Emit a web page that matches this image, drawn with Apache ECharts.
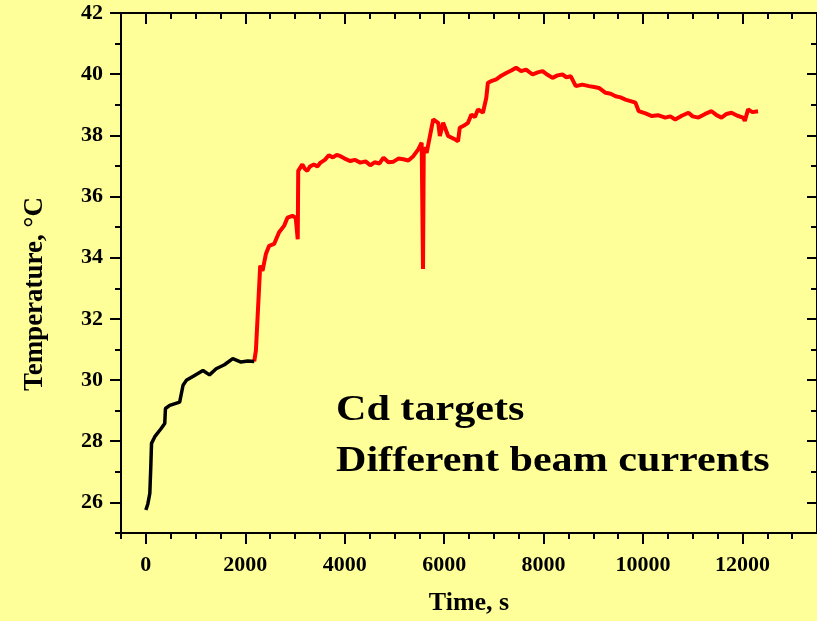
<!DOCTYPE html>
<html>
<head>
<meta charset="utf-8">
<script src="https://cdn.jsdelivr.net/npm/echarts@6/dist/echarts.min.js"></script>
<style>
html,body{margin:0;padding:0;background:#FFFF99;}
#c{width:817px;height:621px;}
</style>
</head>
<body>
<div id="c"></div>
<script>
// Tick labels / tick values
var xMajorTicks = [0, 2000, 4000, 6000, 8000, 10000, 12000];
var xMinorTicks = [-500, 500, 1000, 1500, 2500, 3000, 3500, 4500, 5000, 5500, 6500, 7000, 7500, 8500, 9000, 9500, 10500, 11000, 11500, 12500, 13000];
var yMajorTicks = [26, 28, 30, 32, 34, 36, 38, 40, 42];
var yMinorTicks = [25, 27, 29, 31, 33, 35, 37, 39, 41];

// Black segment (time s, temperature C)
var blackTime = [0, 40, 80, 100, 114, 180, 300, 380, 394, 480, 680, 748, 814, 980, 1148, 1280, 1414, 1580, 1748, 1914, 2050, 2180];
var blackTemp = [25.75, 25.95, 26.3, 27.2, 27.93, 28.15, 28.4, 28.58, 29.07, 29.17, 29.28, 29.83, 29.99, 30.15, 30.31, 30.17, 30.37, 30.5, 30.70, 30.59, 30.62, 30.61];

// Red segment
var redTime = [2180, 2214, 2300, 2347, 2414, 2480, 2580, 2680, 2780, 2848, 2948, 3014, 3040, 3055, 3065, 3080, 3148, 3200, 3248, 3300, 3380, 3450, 3514, 3600, 3680, 3760, 3840, 3914, 4000, 4114, 4200, 4314, 4420, 4514, 4600, 4700, 4780, 4880, 4980, 5080, 5180, 5280, 5380, 5480, 5548, 5560, 5575, 5590, 5614, 5648, 5780, 5880, 5914, 5980, 6080, 6214, 6280, 6314, 6400, 6480, 6548, 6620, 6680, 6780, 6848, 6880, 6960, 7048, 7150, 7248, 7350, 7448, 7548, 7648, 7780, 7880, 7980, 8080, 8180, 8280, 8380, 8460, 8548, 8648, 8780, 8914, 9020, 9114, 9248, 9350, 9448, 9548, 9648, 9750, 9848, 9914, 10050, 10180, 10300, 10448, 10550, 10648, 10780, 10914, 11000, 11114, 11250, 11380, 11480, 11580, 11680, 11780, 11900, 12014, 12048, 12114, 12200, 12314];
var redTemp = [30.61, 30.97, 33.74, 33.57, 34.12, 34.39, 34.45, 34.83, 35.04, 35.31, 35.37, 35.31, 35.3, 34.6, 36.84, 36.84, 37.05, 36.9, 36.84, 36.98, 37.05, 36.98, 37.11, 37.2, 37.35, 37.28, 37.36, 37.32, 37.24, 37.16, 37.2, 37.11, 37.15, 37.02, 37.12, 37.08, 37.27, 37.12, 37.14, 37.24, 37.22, 37.18, 37.32, 37.54, 37.76, 37.76, 33.63, 37.6, 37.65, 37.43, 38.52, 38.41, 37.98, 38.41, 37.98, 37.87, 37.81, 38.25, 38.32, 38.41, 38.68, 38.6, 38.85, 38.74, 39.23, 39.72, 39.78, 39.83, 39.95, 40.04, 40.12, 40.21, 40.1, 40.15, 39.99, 40.06, 40.10, 39.98, 39.88, 39.96, 39.99, 39.9, 39.93, 39.61, 39.66, 39.61, 39.58, 39.55, 39.39, 39.36, 39.28, 39.24, 39.17, 39.12, 39.07, 38.79, 38.72, 38.63, 38.66, 38.58, 38.62, 38.52, 38.64, 38.74, 38.62, 38.58, 38.7, 38.79, 38.66, 38.58, 38.7, 38.74, 38.64, 38.58, 38.47, 38.85, 38.76, 38.79];

function pairs(xs, ys){ var o=[]; for(var i=0;i<xs.length;i++) o.push([xs[i], ys[i]]); return o; }

var FONT = '"Liberation Serif", "Times New Roman", serif';
var X_MIN = -500, X_MAX = 13500, Y_MIN = 25, Y_MAX = 42;

function xAx(pos, ticks, len, inside, labels){
  return {
    type:'value', position:pos, min:X_MIN, max:X_MAX, interval:500,
    axisLine:{show:true, onZero:false, lineStyle:{color:'#000', width:2}},
    axisTick:{show:true, customValues:ticks, length:len, inside:inside, lineStyle:{color:'#000', width:2}},
    axisLabel: labels ? {show:true, customValues:xMajorTicks, margin:21, color:'#000', fontFamily:FONT, fontWeight:'bold', fontSize:22, formatter:function(v){return String(v);}} : {show:false},
    splitLine:{show:false},
    name: (labels ? 'Time, s' : ''), nameLocation:'middle', nameGap:57,
    nameTextStyle:{color:'#000', fontFamily:FONT, fontWeight:'bold', fontSize:26}
  };
}
function yAx(pos, ticks, len, inside, labels){
  return {
    type:'value', position:pos, min:Y_MIN, max:Y_MAX, interval:1,
    axisLine:{show:true, onZero:false, lineStyle:{color:'#000', width:2}},
    axisTick:{show:true, customValues:ticks, length:len, inside:inside, lineStyle:{color:'#000', width:2}},
    axisLabel: labels ? {show:true, customValues:yMajorTicks, margin:18, color:'#000', fontFamily:FONT, fontWeight:'bold', fontSize:22} : {show:false},
    splitLine:{show:false},
    name: (labels ? 'Temperature, °C' : ''), nameLocation:'middle', nameGap:72, nameRotate:90,
    nameTextStyle:{color:'#000', fontFamily:FONT, fontWeight:'bold', fontSize:27, padding:[0,42,0,0]}
  };
}

var chart = echarts.init(document.getElementById('c'), null, {renderer:'canvas'});
chart.setOption({
  backgroundColor:'#FFFF99',
  animation:false,
  grid:{left:121, right:-2, top:13, bottom:88, containLabel:false},
  xAxis:[
    xAx('bottom', xMajorTicks, 11, false, true),
    xAx('bottom', xMinorTicks, 6, false, false),
    xAx('top', xMajorTicks, 11, true, false),
    xAx('top', xMinorTicks, 6, true, false)
  ],
  yAxis:[
    yAx('left', yMajorTicks, 11, false, true),
    yAx('left', yMinorTicks, 6, false, false),
    yAx('right', yMajorTicks, 10, true, false),
    yAx('right', yMinorTicks, 6, true, false)
  ],
  series:[
    {type:'line', xAxisIndex:0, yAxisIndex:0, data:pairs(blackTime, blackTemp), showSymbol:false, lineStyle:{color:'#000', width:3.5}, z:3},
    {type:'line', xAxisIndex:0, yAxisIndex:0, data:pairs(redTime, redTemp), showSymbol:false, lineStyle:{color:'#FF0000', width:4}, z:2}
  ],
  graphic:[
    {type:'text', x:336, y:393, scaleX:1.17, style:{text:'Cd targets', fill:'#000', fontFamily:FONT, fontWeight:'bold', fontSize:36, textVerticalAlign:'top'}},
    {type:'text', x:336, y:444, scaleX:1.17, style:{text:'Different beam currents', fill:'#000', fontFamily:FONT, fontWeight:'bold', fontSize:36, textVerticalAlign:'top'}}
  ]
});
</script>
</body>
</html>
